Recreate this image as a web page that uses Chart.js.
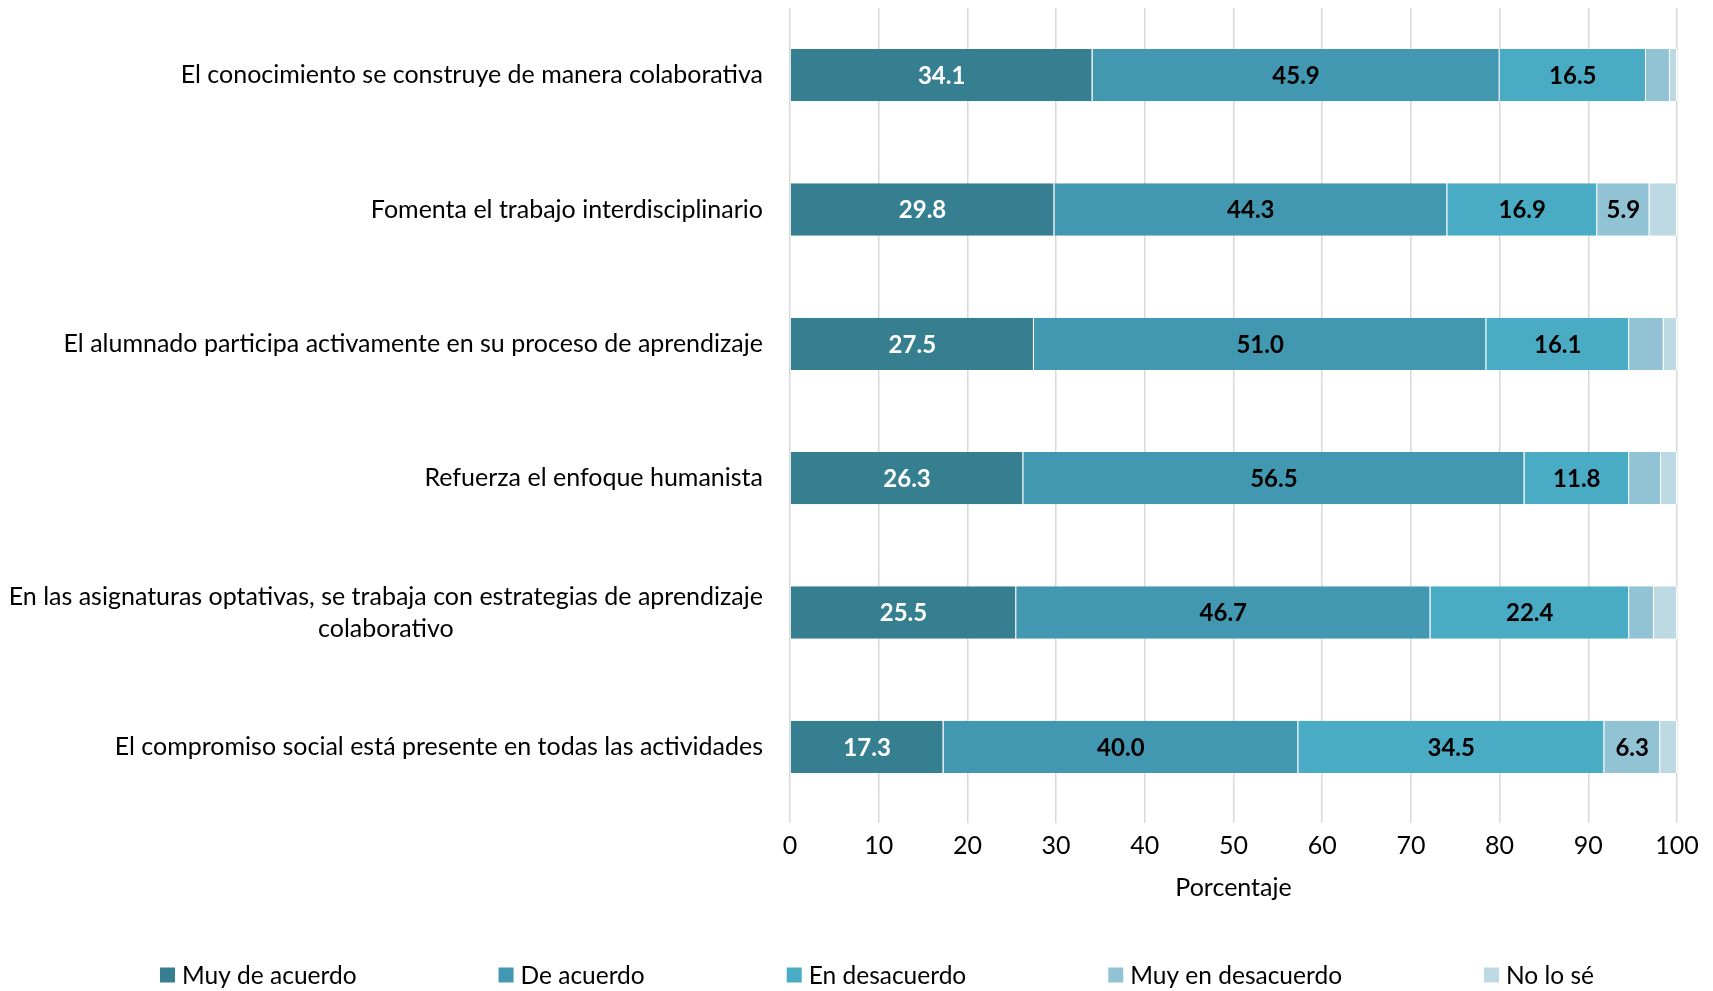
<!DOCTYPE html>
<html><head><meta charset="utf-8">
<script src="https://cdn.jsdelivr.net/npm/chart.js@4.4.1/dist/chart.umd.min.js"></script>
<style>html,body{margin:0;padding:0;background:#fff}#wrap{width:1713px;height:991px}</style>
</head><body><div id="wrap"><canvas id="c"></canvas></div>
<script>
const categories = [
  ["El conocimiento se construye de manera colaborativa"],
  ["Fomenta el trabajo interdisciplinario"],
  ["El alumnado participa activamente en su proceso de aprendizaje"],
  ["Refuerza el enfoque humanista"],
  ["En las asignaturas optativas, se trabaja con estrategias de aprendizaje", "colaborativo"],
  ["El compromiso social está presente en todas las actividades"]
];
const seriesNames = ["Muy de acuerdo", "De acuerdo", "En desacuerdo", "Muy en desacuerdo", "No lo sé"];
const muyDeAcuerdo    = [34.1, 29.8, 27.5, 26.3, 25.5, 17.3];
const deAcuerdo       = [45.9, 44.3, 51.0, 56.5, 46.7, 40.0];
const enDesacuerdo    = [16.5, 16.9, 16.1, 11.8, 22.4, 34.5];
const muyEnDesacuerdo = [2.7, 5.9, 3.9, 3.6, 2.8, 6.3];
const noLoSe          = [0.8, 3.1, 1.5, 1.8, 2.6, 1.9];
const xTicks = [0,10,20,30,40,50,60,70,80,90,100];
const colors = ["#367F91", "#4298B0", "#4AABC5", "#92C3D4", "#BDD9E4"];
const labelColors = ["#ffffff", "#000000", "#000000", "#000000", "#000000"];

const FONT = "Lato, 'Open Sans', sans-serif";
const FS = 25;
const values = [muyDeAcuerdo, deAcuerdo, enDesacuerdo, muyEnDesacuerdo, noLoSe];

const valueLabels = {
  id: 'valueLabels',
  afterDatasetsDraw(chart) {
    const ctx = chart.ctx;
    ctx.save();
    ctx.font = "bold 24px " + FONT;
    ctx.textAlign = 'center';
    ctx.textBaseline = 'middle';
    chart.data.datasets.forEach((ds, di) => {
      const meta = chart.getDatasetMeta(di);
      meta.data.forEach((bar, i) => {
        const v = ds.data[i];
        if (v < 5) return;
        ctx.fillStyle = labelColors[di];
        ctx.fillText(v.toFixed(1), (bar.x + bar.base) / 2, bar.y + 1);
      });
    });
    ctx.restore();
  }
};

const catLabels = {
  id: 'catLabels',
  afterDraw(chart) {
    const ctx = chart.ctx;
    const y = chart.scales.y;
    const right = chart.chartArea.left - 27;
    ctx.save();
    ctx.font = FS + "px " + FONT;
    ctx.fillStyle = "#000";
    ctx.textBaseline = 'middle';
    const lh = 32;
    categories.forEach((lines, i) => {
      const cy = y.getPixelForValue(i);
      const w = Math.max(...lines.map(l => ctx.measureText(l).width));
      const cx = right - w / 2;
      ctx.textAlign = 'center';
      lines.forEach((l, k) => {
        const ly = cy + (k - (lines.length - 1) / 2) * lh;
        ctx.fillText(l, cx, ly);
      });
    });
    ctx.restore();
  }
};

const customLegend = {
  id: 'customLegend',
  afterDraw(chart) {
    const ctx = chart.ctx;
    ctx.save();
    ctx.font = "24.5px " + FONT;
    ctx.textBaseline = 'middle';
    ctx.textAlign = 'left';
    const box = 15, gapBT = 7, gapItem = 142;
    const widths = seriesNames.map(n => box + gapBT + ctx.measureText(n).width);
    const total = widths.reduce((a, b) => a + b, 0) + gapItem * (seriesNames.length - 1);
    let x = 877 - total / 2;
    const cy = 975;
    seriesNames.forEach((n, i) => {
      ctx.fillStyle = colors[i];
      ctx.fillRect(x, cy - box / 2, box, box);
      ctx.fillStyle = '#000';
      ctx.fillText(n, x + box + gapBT, cy + 1);
      x += widths[i] + gapItem;
    });
    ctx.restore();
  }
};

new Chart(document.getElementById('c'), {
  type: 'bar',
  data: {
    labels: categories,
    datasets: values.map((arr, k) => ({
      label: seriesNames[k],
      data: arr,
      backgroundColor: colors[k],
      borderColor: '#ffffff',
      borderWidth: {left: 0, right: 1, top: 0, bottom: 0},
      borderSkipped: false,
      categoryPercentage: 1,
      barPercentage: 0.39
    }))
  },
  options: {
    indexAxis: 'y',
    responsive: true,
    maintainAspectRatio: false,
    animation: false,
    layout: {padding: {left: 60, right: 36, top: 8, bottom: 88}},
    scales: {
      x: {
        stacked: true, min: 0, max: 100,
        afterBuildTicks(s) { s.ticks = xTicks.map(v => ({value: v})); },
        grid: {color: '#d9d9d9', lineWidth: 1.5, drawTicks: true, tickLength: 9, tickColor: '#d9d9d9'},
        border: {display: false},
        ticks: {font: {family: FONT, size: FS}, color: '#000', padding: 8, maxRotation: 0},
        title: {display: true, text: 'Porcentaje', font: {family: FONT, size: FS}, color: '#000', padding: {top: 4, bottom: 0}}
      },
      y: {
        stacked: true,
        grid: {display: false},
        border: {display: false},
        ticks: {display: false},
        afterFit(s) { s.width = 730; }
      }
    },
    plugins: {
      legend: {display: false},
      tooltip: {enabled: false}
    }
  },
  plugins: [valueLabels, catLabels, customLegend]
});
</script></body></html>
